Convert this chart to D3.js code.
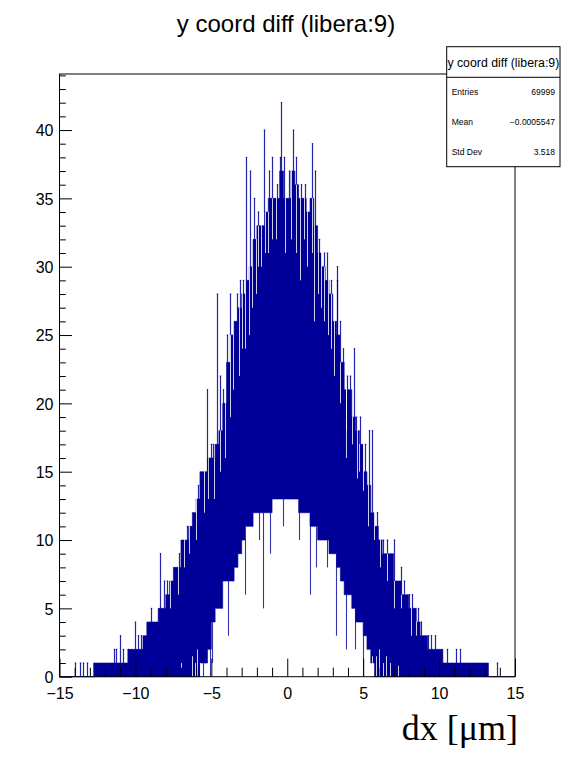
<!DOCTYPE html>
<html>
<head>
<meta charset="utf-8">
<script src="https://cdn.jsdelivr.net/npm/d3@7"></script>
<style>
  html, body { margin: 0; padding: 0; background: #fff; }
  svg { display: block; }
</style>
</head>
<body>
<svg id="chart" width="572" height="759"></svg>
<script>
// ---------------- DATA ----------------
const titleText = "y coord diff (libera:9)";
const xAxisTitle = "dx [\u03bcm]";
const xDomain = [-15, 15];
const yDomain = [0, 44.1];
const xMajorTicks = [-15, -10, -5, 0, 5, 10, 15];
const yMajorTicks = [0, 5, 10, 15, 20, 25, 30, 35, 40];

const statsLabels = ["Entries", "Mean", "Std Dev"];
const statsValues = ["69999", "\u22120.0005547", "3.518"];

// histogram drawn as 0.25-wide cells (dense band of counts)
const cellWidth = 0.25;
const cellCenters = d3.range(120).map(i => -14.875 + cellWidth * i);
// upper level of the dense band in each cell
const bandHigh = [
  0,0,0,0,0,0,0,0,0,1,
  1,1,1,1,1,1,1,1,2,2,
  2,2,3,4,4,4,5,5,6,7,
  8,8,10,10,11,12,13,15,15,16,
  16,17,18,20,23,25,26,27,28,29,
  30,32,33,33,34,35,35,35,37,35,
  35,37,36,35,35,34,35,33,31,30,
  29,28,26,25,23,21,21,19,18,17,
  15,14,12,11,10,9,9,9,7,7,
  6,6,5,5,4,3,3,2,2,2,
  2,1,1,1,1,1,1,1,1,1,
  1,1,1,0,0,0,0,0,0,0
];
// lower level of the dense band in each cell
const bandLow = [
  0,0,0,0,0,0,0,0,0,0,
  0,0,0,0,0,0,0,0,0,0,
  0,0,0,0,0,0,0,0,0,0,
  0,0,0,0,0,0,0,1,1,2,
  4,5,5,7,7,7,8,9,10,11,
  11,12,12,12,12,12,13,13,13,13,
  13,13,13,12,12,12,11,11,10,10,
  10,9,9,8,7,6,6,5,4,4,
  3,2,1,0,0,0,0,0,0,0,
  0,0,0,0,0,0,0,0,0,0,
  0,0,0,0,0,0,0,0,0,0,
  0,0,0,0,0,0,0,0,0,0
];
// single bins sticking up above the band
const spikeX = [-14.0,-13.66,-13.42,-13.2,-11.4,-11.25,-11.0,-10.8,-10.5,-10.0,-9.8,-9.6,-9.0,-8.4,-8.1,-7.9,-7.1,-6.6,-6.2,-5.9,
  -5.3,-5.05,-4.9,-4.63,-4.45,-4.2,-3.95,-3.75,-3.3,-3.1,-2.9,-2.7,-2.45,-2.2,-1.95,-1.5,-1.2,-1.0,-0.7,-0.5,
  -0.38,-0.2,0.1,0.36,0.6,0.9,1.2,1.6,1.85,2.1,2.4,2.65,2.9,3.25,3.3,3.5,3.7,3.95,4.1,4.4,
  4.55,4.8,5.1,5.4,5.55,5.9,6.3,6.6,7.0,7.5,7.7,8.0,8.2,8.6,8.8,9.3,9.5,9.7,10.5,11.1,11.4,13.8];
const spikeY = [1,1,1,1,2,2,3,2,2,4,3,3,5,9,7,7,9,11,12,14,
  21,17,17,28,22,21,25,28,28,29,29,38,37,35,34,40,37,38,36,38,
  42,38,37,40,38,36,36,39,37,32,31,31,29,29,30,26,24,22,22,24,
  19,19,17,18,18,12,10,10,10,8,7,6,6,5,4,3,3,3,2,2,2,1];
// single bins dropping below the band
const dipX = [-5.57,-5.1,-4.95,-3.9,-2.8,-1.86,-1.6,-1.15,-0.3,0.8,1.48,1.92,2.6,3.24,3.9,4.45,5.0];
const dipY = [0,0,1,3,6,10,5,9,11,10,6,8,8,3,2,2,0];
// low bins leaving white gaps in the upper part of the band
const notchX = [-7.7,-7.2,-6.8,-6.45,-6.0,-5.5,-5.2,-4.8,-4.45,-4.12,-3.75,-3.55,-3.2,-2.95,-2.75,-2.5,-2.3,-2.05,-1.9,-1.7,
  -1.45,-1.3,-1.0,-0.75,-0.15,0.25,0.55,0.82,1.1,1.3,1.6,1.75,2.0,2.2,2.4,2.7,2.9,3.1,3.45,3.84,
  3.9,4.25,4.6,4.75,4.96,5.3,5.7,6.1,6.55,7.05,7.5,8.15,8.5];
const notchY = [5,6,8,9,10,12,13,13,15,16,19,21,22,24,24,25,27,28,30,30,
  31,31,32,32,31,32,31,29,32,30,31,26,28,27,26,25,24,22,20,18,
  16,17,14.5,15,13.6,11,10,8,7,5,5,3,3];
// bins near the floor that leave white gaps down to zero
const floorGapX = [-7.0,-6.3,-6.1,-5.95,-5.75,5.6,5.85,6.05,6.3,6.5,6.8,7.3];
const floorGapY = [1,1.5,1,2,1,1.5,1.5,2,1,1.5,1,0.8];

// ---------------- LAYOUT ----------------
const svg = d3.select("#chart");
const sansFont = "'Liberation Sans', Arial, Helvetica, sans-serif";
const serifFont = "'Liberation Serif', 'Times New Roman', serif";
const frame = { left: 59.5, right: 515, top: 74, bottom: 676.7 };
const histColor = "#000099";

const xs = d3.scaleLinear().domain(xDomain).range([frame.left, frame.right]);
const ys = d3.scaleLinear().domain(yDomain).range([frame.bottom, frame.top]);

const cellOf = x => Math.max(0, Math.min(cellCenters.length - 1,
  Math.floor((x - xDomain[0]) / cellWidth)));
const px = x => Math.round(xs(x)) + 0.5;

const plot = svg.append("g");

// dense band
const pts = [];
cellCenters.forEach((c, i) => {
  pts.push({ x: c - cellWidth / 2, lo: bandLow[i], hi: bandHigh[i] });
  pts.push({ x: c + cellWidth / 2, lo: bandLow[i], hi: bandHigh[i] });
});
plot.append("path")
  .datum(pts)
  .attr("fill", histColor)
  .attr("stroke", histColor)
  .attr("stroke-width", 0.6)
  .attr("d", d3.area().x(d => xs(d.x)).y0(d => ys(d.lo)).y1(d => ys(d.hi)));

// notches (white)
plot.selectAll("line.notch").data(notchX).join("line")
  .attr("class", "notch")
  .attr("x1", px).attr("x2", px)
  .attr("y1", d => ys(bandHigh[cellOf(d)]) - 0.5)
  .attr("y2", (d, i) => ys(notchY[i]))
  .attr("stroke", "#ffffff").attr("stroke-width", 1).attr("stroke-opacity", 0.8);

// floor gaps (white)
plot.selectAll("line.fgap").data(floorGapX).join("line")
  .attr("class", "fgap")
  .attr("x1", px).attr("x2", px)
  .attr("y1", ys(0))
  .attr("y2", (d, i) => ys(floorGapY[i]))
  .attr("stroke", "#ffffff").attr("stroke-width", 1).attr("stroke-opacity", 0.8);

// spikes
plot.selectAll("line.spike").data(spikeX).join("line")
  .attr("class", "spike")
  .attr("x1", px).attr("x2", px)
  .attr("y1", d => ys(bandHigh[cellOf(d)]))
  .attr("y2", (d, i) => ys(spikeY[i]))
  .attr("stroke", histColor).attr("stroke-width", 1.2).attr("stroke-opacity", 0.85);
plot.selectAll("line.cap").data(spikeX).join("line")
  .attr("class", "cap")
  .attr("x1", d => px(d) - 0.7).attr("x2", d => px(d) + 0.7)
  .attr("y1", (d, i) => ys(spikeY[i])).attr("y2", (d, i) => ys(spikeY[i]))
  .attr("stroke", histColor).attr("stroke-width", 1);

// dips
plot.selectAll("line.dip").data(dipX).join("line")
  .attr("class", "dip")
  .attr("x1", px).attr("x2", px)
  .attr("y1", d => ys(bandLow[cellOf(d)]))
  .attr("y2", (d, i) => ys(dipY[i]))
  .attr("stroke", histColor).attr("stroke-width", 1.1).attr("stroke-opacity", 0.8);

// ---------------- AXES ----------------
const xMinor = d3.range(xDomain[0], xDomain[1] + 1, 1).filter(v => !xMajorTicks.includes(v));
const yMinor = d3.range(0, 45, 1).filter(v => !yMajorTicks.includes(v) && v <= yDomain[1]);

const gx = svg.append("g").attr("transform", `translate(0,${frame.bottom})`);
gx.call(d3.axisBottom(xs).tickValues(xMajorTicks).tickSizeInner(-18).tickSizeOuter(0)
  .tickPadding(11).tickFormat(d => d < 0 ? "\u2212" + Math.abs(d) : d));
const gxm = svg.append("g").attr("transform", `translate(0,${frame.bottom})`);
gxm.call(d3.axisBottom(xs).tickValues(xMinor).tickSizeInner(-9).tickSizeOuter(0).tickFormat(""));

const gy = svg.append("g").attr("transform", `translate(${frame.left},0)`);
gy.call(d3.axisLeft(ys).tickValues(yMajorTicks).tickSizeInner(-12.5).tickSizeOuter(0)
  .tickPadding(6).tickFormat(d3.format("d")));
const gym = svg.append("g").attr("transform", `translate(${frame.left},0)`);
gym.call(d3.axisLeft(ys).tickValues(yMinor).tickSizeInner(-6.3).tickSizeOuter(0).tickFormat(""));

[gx, gxm, gy, gym].forEach(g => {
  g.select(".domain").remove();
  g.selectAll("line").attr("stroke", "#000").attr("stroke-width", 1);
  g.selectAll("text").attr("fill", "#000")
    .style("font-family", sansFont).style("font-size", "16px");
});
gy.selectAll("text").attr("dy", "0.36em");

// frame
svg.append("rect")
  .attr("x", frame.left).attr("y", frame.top)
  .attr("width", frame.right - frame.left).attr("height", frame.bottom - frame.top)
  .attr("fill", "none").attr("stroke", "#000").attr("stroke-width", 1);

// ---------------- TITLES ----------------
svg.append("text")
  .attr("x", 286).attr("y", 32)
  .attr("text-anchor", "middle")
  .style("font-family", sansFont).style("font-size", "24px")
  .text(titleText);

svg.append("text")
  .attr("x", 518).attr("y", 740)
  .attr("text-anchor", "end")
  .style("font-family", serifFont).style("font-size", "36px")
  .text(xAxisTitle);

// ---------------- STATS BOX ----------------
const box = { x: 446.7, y: 46.7, w: 113.3, h: 120, head: 30.6 };
const sb = svg.append("g");
sb.append("rect").attr("x", box.x).attr("y", box.y).attr("width", box.w).attr("height", box.h)
  .attr("fill", "#fff").attr("stroke", "#000").attr("stroke-width", 1);
sb.append("line").attr("x1", box.x).attr("x2", box.x + box.w)
  .attr("y1", box.y + box.head).attr("y2", box.y + box.head)
  .attr("stroke", "#000").attr("stroke-width", 1);
sb.append("text").attr("x", box.x + box.w / 2).attr("y", box.y + 20)
  .attr("text-anchor", "middle")
  .style("font-family", sansFont).style("font-size", "12.3px")
  .text(titleText);
const rowH = (box.h - box.head) / statsLabels.length;
statsLabels.forEach((lab, i) => {
  const yb = box.y + box.head + rowH * (i + 0.5) + 3;
  sb.append("text").attr("x", box.x + 5).attr("y", yb)
    .style("font-family", sansFont).style("font-size", "8.5px").text(lab);
  sb.append("text").attr("x", box.x + box.w - 5).attr("y", yb).attr("text-anchor", "end")
    .style("font-family", sansFont).style("font-size", "8.5px").text(statsValues[i]);
});
</script>
</body>
</html>
